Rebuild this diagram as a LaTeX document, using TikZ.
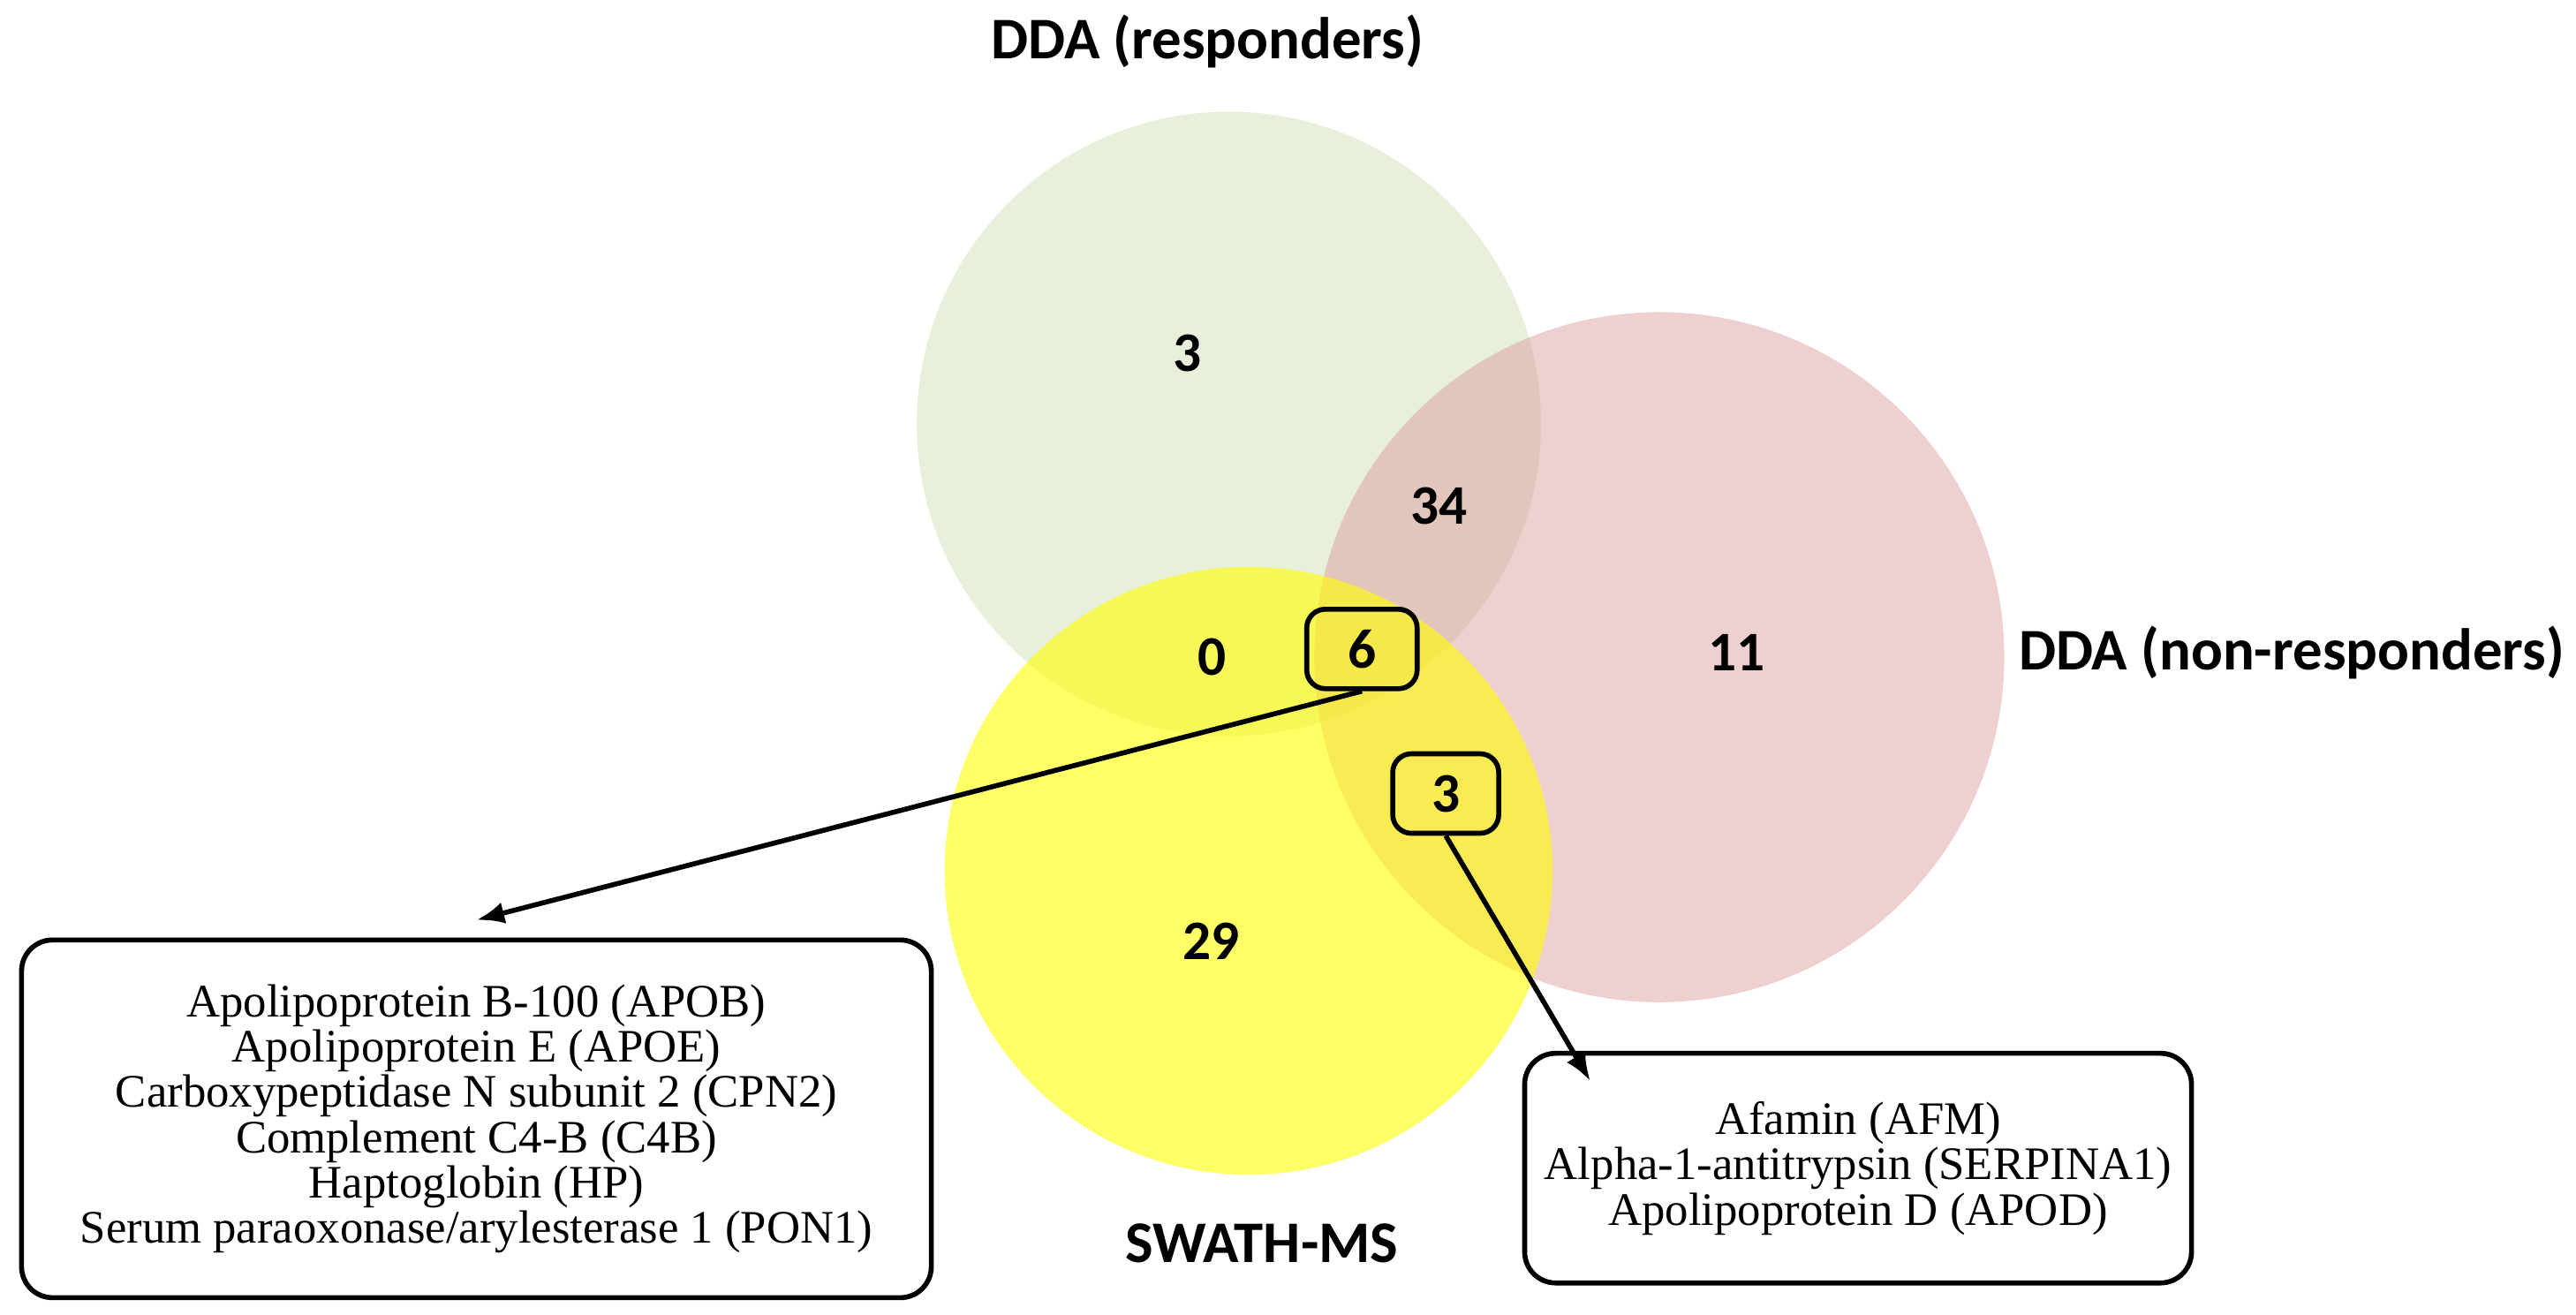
\documentclass[tikz,border=0pt]{standalone}
\usepackage{fontspec}
\setmainfont{Liberation Serif}
\newfontfamily\lab{Carlito}
\usetikzlibrary{arrows.meta}
\begin{document}
\begin{tikzpicture}[x=0.0186cm,y=-0.0186cm,
 num/.style={font=\lab\bfseries\fontsize{18}{21}\selectfont},
 ttl/.style={font=\lab\bfseries\fontsize{19}{22}\selectfont},
 bx/.style={draw,line width=1.6pt,rounded corners=10pt},
 lst/.style={font=\fontsize{15}{13.3}\selectfont,align=center},
 arr/.style={-{Latex[length=9pt,width=7pt]},line width=1.6pt}]
\useasboundingbox (0,0) rectangle (1568,800);
\fill[fill={rgb,255:red,205;green,220;blue,175},fill opacity=0.45] (748,258) circle (190);
\fill[fill={rgb,255:red,220;green,150;blue,150},fill opacity=0.45] (1010,400) circle (210);
\fill[fill={rgb,255:red,255;green,255;blue,0},fill opacity=0.6] (760,530) circle (185);
\node[ttl] (t1) at (735,25) {DDA (responders)};
\node[ttl] (t2) at (1395,397) {DDA (non-responders)};
\node[ttl] (t3) at (768,757) {SWATH-MS};
\node[num] (n3) at (723,215) {3};
\node[num] (n34) at (876,308) {34};
\node[num] (n0) at (738,400) {0};
\node[num] (n11) at (1057,397) {11};
\node[num] (n29) at (737,573) {29};
\node[num,bx,minimum width=1.25cm,minimum height=0.9cm,rounded corners=6pt] (n6) at (829,395) {6};
\node[num,bx,minimum width=1.2cm,minimum height=0.9cm,rounded corners=6pt] (b3) at (880,483) {3};
\node[bx,lst,minimum width=10.3cm,minimum height=4.05cm] (L) at (290,681) {Apolipoprotein B-100 (APOB)\\Apolipoprotein E (APOE)\\Carboxypeptidase N subunit 2 (CPN2)\\Complement C4-B (C4B)\\Haptoglobin (HP)\\Serum paraoxonase/arylesterase 1 (PON1)};
\node[bx,lst,minimum width=7.55cm,minimum height=2.6cm] (R) at (1131,711) {Afamin (AFM)\\Alpha-1-antitrypsin (SERPINA1)\\Apolipoprotein D (APOD)};
\coordinate (a1) at (290,560);
\coordinate (a2) at (968,658);
\draw[arr] (n6.south) -- (a1);
\draw[arr] (b3.south) -- (a2);
\end{tikzpicture}
\end{document}
